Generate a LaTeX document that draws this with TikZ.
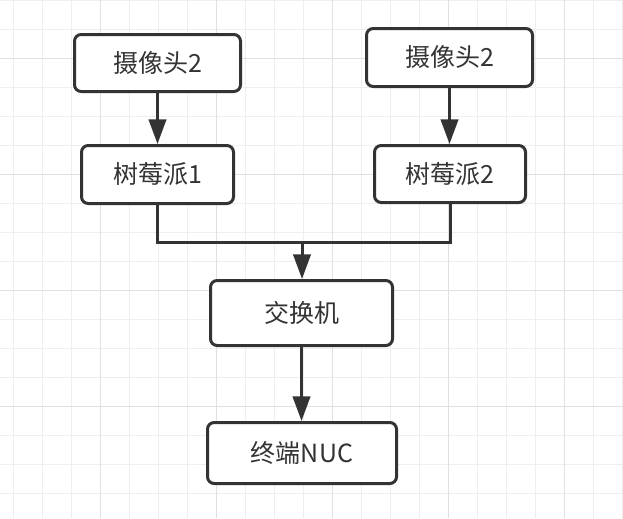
\documentclass[tikz,border=0pt]{standalone}
\usepackage{fontspec}
\setmainfont{Noto Sans CJK SC}
\usetikzlibrary{arrows.meta}
\definecolor{inkgray}{HTML}{333333}
\definecolor{gridminor}{HTML}{EEEEEE}
\definecolor{gridmajor}{HTML}{E0E0E0}

\begin{document}
\begin{tikzpicture}[x=0.75pt,y=-0.75pt,
    box/.style={draw=inkgray,line width=2.25pt,rounded corners=5pt,fill=white,text=inkgray,
      font=\fontsize{18.75}{22}\selectfont,inner sep=0pt},
    arr/.style={-{Triangle[length=18.5pt,width=13pt]},line width=2.25pt,inkgray},
    link/.style={line width=2.25pt,inkgray}]
  \useasboundingbox (0,0) rectangle (623,518);
  % background grid
  \foreach \k in {0,...,21}
    \draw[gridminor,line width=0.75pt] ({13.3+29*\k},0) -- ({13.3+29*\k},518);
  \foreach \k in {0,...,17}
    \draw[gridminor,line width=0.75pt] (0,{29*\k}) -- (623,{29*\k});
  \foreach \k in {3,7,...,19}
    \draw[gridmajor,line width=0.75pt] ({13.3+29*\k},0) -- ({13.3+29*\k},518);
  \foreach \k in {2,6,...,14}
    \draw[gridmajor,line width=0.75pt] (0,{29*\k}) -- (623,{29*\k});

  \node[box,minimum width=124.5pt,minimum height=42.75pt] (cam1) at (157.5,63) {摄像头2};
  \node[box,minimum width=114pt,minimum height=43.5pt] (pi1) at (157.5,174.5) {树莓派1};
  \node[box,minimum width=124.5pt,minimum height=43.5pt] (cam2) at (449.5,57.5) {摄像头2};
  \node[box,minimum width=113.25pt,minimum height=42.75pt] (pi2) at (450,174) {树莓派2};
  \node[box,minimum width=136.5pt,minimum height=48.75pt] (switch) at (301.5,313) {交换机};
  \node[box,minimum width=141.75pt,minimum height=45.75pt] (nuc) at (302,453) {终端NUC};
  \coordinate (join) at (302,242);

  \draw[arr] (cam1) -- (pi1);
  \draw[arr] (cam2.south) -- (cam2.south |- pi2.north);
  \draw[link] (pi1) |- (join) -| (pi2);
  \draw[arr] (join) -- (join |- switch.north);
  \draw[arr] (switch.south) -- (switch.south |- nuc.north);
\end{tikzpicture}
\end{document}
